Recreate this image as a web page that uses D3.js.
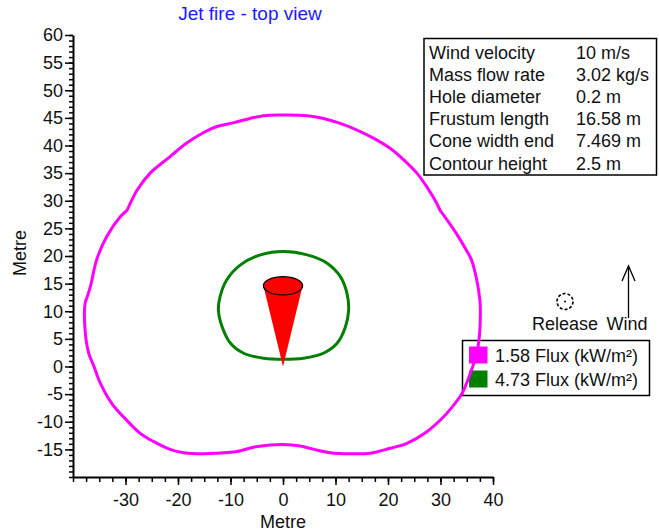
<!DOCTYPE html>
<html>
<head>
<meta charset="utf-8">
<script src="https://cdn.jsdelivr.net/npm/d3@7"></script>
<style>
  html, body { margin: 0; padding: 0; background: #fff; }
  svg { display: block; font-family: "Liberation Sans", Arial, sans-serif; }
</style>
</head>
<body>
<svg id="chart" width="659" height="532"></svg>
<script>
// Flux contours of the jet fire, seen from above (metres)
const flux158X = [0, 4.6, 7.7, 10.9, 14.1, 17.3, 20.4, 23.0, 25.5, 27.4, 29.3, 29.9, 30.6, 33.0, 34.9, 35.9, 36.9, 37.5, 37.6, 37.4, 36.9, 35.7, 34.1, 32.5, 30.6, 27.4, 23.6, 20.4, 16.6, 12.8, 9.0, 5.9, 3.3, 0, -2.4, -5.6, -8.8, -12.6, -15.2, -18.9, -21.5, -24.6, -27.2, -30.4, -32.6, -34.8, -36.0, -37.0, -37.7, -37.7, -37.3, -36.7, -35.5, -33.6, -31.0, -29.7, -29.4, -27.8, -25.3, -21.5, -18.4, -15.2, -12.7, -9.5, -6.3, -3.7];
const flux158Y = [45.5, 45.4, 44.9, 44.0, 42.8, 41.3, 39.5, 37.4, 35.0, 32.5, 29.5, 28.3, 27.4, 24.1, 21.1, 19.3, 15.7, 12.0, 10.2, 5.4, 2.4, -1.2, -4.9, -7.0, -9.1, -11.8, -13.9, -14.8, -15.7, -15.8, -15.6, -15.0, -14.4, -14.1, -14.2, -14.6, -15.4, -15.7, -15.8, -15.6, -15.0, -13.6, -12.1, -9.1, -6.7, -3.0, 0, 2.4, 6.6, 11.4, 12.6, 14.4, 19.3, 23.5, 27.1, 28.3, 28.9, 31.9, 35.0, 38.0, 40.4, 42.3, 43.4, 44.1, 44.9, 45.4];
const flux473X = [0.1, 4.6, 8.4, 10.9, 12.2, 12.5, 11.9, 10.3, 7.7, 3.9, 0.1, -3.7, -7.5, -10.0, -11.6, -12.3, -12.0, -10.7, -8.1, -4.3];
const flux473Y = [20.8, 20.2, 18.7, 16.3, 13.2, 10.2, 7.2, 4.2, 2.4, 1.5, 1.3, 1.5, 2.4, 4.2, 7.2, 10.2, 12.6, 15.7, 18.4, 20.2];

// Flame cone: tip at the release point, open end projected onto the ground plane
const coneTip = [0, 0];
const coneEndY = 14.6;
const coneEndWidth = 7.469;
const coneEndDepth = 3.3;

// Legend entries and the scenario table
const legendLabels = ["1.58 Flux (kW/m²)", "4.73 Flux (kW/m²)"];
const legendColors = ["#ff00ff", "#008000"];
const infoLabels = ["Wind velocity", "Mass flow rate", "Hole diameter", "Frustum length", "Cone width end", "Contour height"];
const infoValues = ["10 m/s", "3.02 kg/s", "0.2 m", "16.58 m", "7.469 m", "2.5 m"];

// Axis ticks
const xTickLabels = [-30, -20, -10, 0, 10, 20, 30, 40];
const yTickLabels = [-15, -10, -5, 0, 5, 10, 15, 20, 25, 30, 35, 40, 45, 50, 55, 60];
const xMinorTicks = d3.range(-40, 40.01, 2.5);
const yMinorTicks = d3.range(-20, 60.01, 1);

const svg = d3.select("#chart");
const FONT = 18;
const plainNumber = d => String(d);

const x = d3.scaleLinear().domain([-40, 40]).range([73, 493]);
const y = d3.scaleLinear().domain([-20, 60]).range([477, 35]);

// Title
svg.append("text")
  .attr("x", 250).attr("y", 20)
  .attr("text-anchor", "middle")
  .attr("fill", "#1a1aff")
  .style("font-size", "19px")
  .text("Jet fire - top view");

// Minor ticks
svg.append("g")
  .attr("transform", `translate(${x.range()[0]},0)`)
  .call(d3.axisLeft(y).tickValues(yMinorTicks).tickSize(4).tickFormat(""))
  .call(g => g.select(".domain").remove())
  .call(g => g.selectAll("line").attr("stroke", "#000").attr("stroke-width", 1.5));
svg.append("g")
  .attr("transform", `translate(0,${y.range()[0]})`)
  .call(d3.axisBottom(x).tickValues(xMinorTicks).tickSize(5).tickFormat(""))
  .call(g => g.select(".domain").remove())
  .call(g => g.selectAll("line").attr("stroke", "#000").attr("stroke-width", 1.5));

// Major ticks with labels
const yAxis = svg.append("g")
  .attr("transform", `translate(${x.range()[0]},0)`)
  .call(d3.axisLeft(y).tickValues(yTickLabels).tickFormat(plainNumber).tickSize(8).tickPadding(2).tickSizeOuter(0));
const xAxis = svg.append("g")
  .attr("transform", `translate(0,${y.range()[0]})`)
  .call(d3.axisBottom(x).tickValues(xTickLabels).tickFormat(plainNumber).tickSize(8).tickPadding(8).tickSizeOuter(0));
[yAxis, xAxis].forEach(a => {
  a.selectAll("text").style("font-size", FONT + "px").attr("fill", "#111").style("font-family", "inherit");
  a.selectAll("line").attr("stroke", "#000").attr("stroke-width", 1.5);
  a.select(".domain").attr("stroke", "#000").attr("stroke-width", 2);
});

// Axis titles
svg.append("text")
  .attr("x", (x.range()[0] + x.range()[1]) / 2).attr("y", 528)
  .attr("text-anchor", "middle").style("font-size", FONT + "px").attr("fill", "#111")
  .text("Metre");
svg.append("text")
  .attr("transform", `translate(26,${(y.range()[0] + y.range()[1]) / 2 - 3}) rotate(-90)`)
  .attr("text-anchor", "middle").style("font-size", FONT + "px").attr("fill", "#111")
  .text("Metre");

// Legend (contours are drawn over it)
const legend = svg.append("g");
legend.append("rect")
  .attr("x", 462.5).attr("y", 340.5).attr("width", 187).attr("height", 55)
  .attr("fill", "#fff").attr("stroke", "#000").attr("stroke-width", 1.5);
legendLabels.forEach((lab, i) => {
  legend.append("rect")
    .attr("x", 469).attr("y", 346.5 + i * 24).attr("width", 18.5).attr("height", 17)
    .attr("fill", legendColors[i]);
  legend.append("text")
    .attr("x", 495).attr("y", 361.5 + i * 24.5)
    .style("font-size", FONT + "px").attr("fill", "#111")
    .text(lab);
});

// Flux contours
const contourLine = d3.line()
  .x(d => x(d[0])).y(d => y(d[1]))
  .curve(d3.curveCatmullRomClosed.alpha(0.5));
const contours = [
  { xs: flux158X, ys: flux158Y, color: legendColors[0] },
  { xs: flux473X, ys: flux473Y, color: legendColors[1] }
];
contours.forEach(c => {
  svg.append("path")
    .attr("d", contourLine(c.xs.map((v, i) => [v, c.ys[i]])))
    .attr("fill", "none")
    .attr("stroke", c.color)
    .attr("stroke-width", 3)
    .attr("stroke-linejoin", "round");
});

// Flame cone
const half = coneEndWidth / 2;
svg.append("path")
  .attr("d", d3.line()([
    [x(coneTip[0]), y(coneTip[1])],
    [x(coneTip[0] - half), y(coneEndY)],
    [x(coneTip[0] + half), y(coneEndY)]
  ]) + "Z")
  .attr("fill", "#ff0000");
svg.append("ellipse")
  .attr("cx", x(coneTip[0])).attr("cy", y(coneEndY))
  .attr("rx", x(half) - x(0)).attr("ry", (y(0) - y(coneEndDepth)) / 2)
  .attr("fill", "#ff0000").attr("stroke", "#000").attr("stroke-width", 1.3);

// Release point and wind direction symbols
const sym = svg.append("g");
sym.append("circle")
  .attr("cx", 565).attr("cy", 301.5).attr("r", 8)
  .attr("fill", "none").attr("stroke", "#000").attr("stroke-width", 1.6)
  .attr("stroke-dasharray", "3,2");
sym.append("circle").attr("cx", 565).attr("cy", 301.5).attr("r", 1).attr("fill", "#000");
sym.append("text")
  .attr("x", 565).attr("y", 330).attr("text-anchor", "middle")
  .style("font-size", FONT + "px").attr("fill", "#111").text("Release");
sym.append("line")
  .attr("x1", 628.5).attr("y1", 318).attr("x2", 628.5).attr("y2", 266)
  .attr("stroke", "#000").attr("stroke-width", 1.3);
sym.append("path")
  .attr("d", "M622,281 L628.5,266 L635,281")
  .attr("fill", "none").attr("stroke", "#000").attr("stroke-width", 1.3);
sym.append("text")
  .attr("x", 627).attr("y", 330).attr("text-anchor", "middle")
  .style("font-size", FONT + "px").attr("fill", "#111").text("Wind");

// Scenario table
const info = svg.append("g");
info.append("rect")
  .attr("x", 424).attr("y", 38.5).attr("width", 232.5).attr("height", 136.5)
  .attr("fill", "#fff").attr("stroke", "#000").attr("stroke-width", 1.5);
infoLabels.forEach((lab, i) => {
  info.append("text")
    .attr("x", 429).attr("y", 58.5 + i * 22.2)
    .style("font-size", FONT + "px").attr("fill", "#111").text(lab);
  info.append("text")
    .attr("x", 576).attr("y", 58.5 + i * 22.2)
    .style("font-size", FONT + "px").attr("fill", "#111").text(infoValues[i]);
});
</script>
</body>
</html>
